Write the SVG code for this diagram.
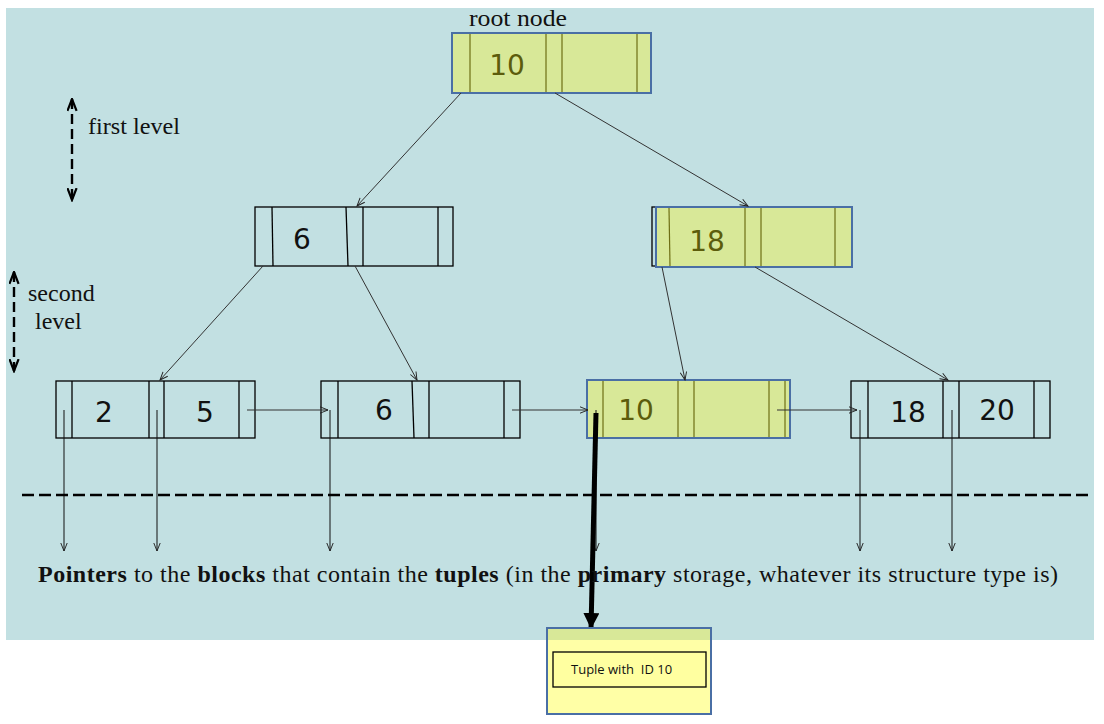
<svg xmlns="http://www.w3.org/2000/svg" width="1104" height="724" viewBox="0 0 1104 724">
<style>
.bg{fill:#c2e0e2}
.wn{fill:none;stroke:#000;stroke-width:1.3}
.wd{stroke:#000;stroke-width:1.3}
.yn{fill:#d8e898;stroke:#4a6fa5;stroke-width:2}
.yd{stroke:#6e6e14;stroke-width:1.2}
.num{font-family:"DejaVu Sans",sans-serif;font-size:28px;text-anchor:middle;fill:#111}
.ynum{fill:#5c5c0c}
.lbl{font-family:"Liberation Serif",serif;font-size:24px;fill:#111}
.edge{stroke:#333;stroke-width:1;fill:none;marker-end:url(#open)}
.ptr{stroke:#111;stroke-width:1;fill:none;marker-end:url(#open)}
.lev{stroke:#000;stroke-width:2.4;stroke-dasharray:10,5;fill:none;marker-start:url(#lv);marker-end:url(#lv)}
</style>
<defs>
<marker id="open" viewBox="0 0 10 10" refX="10" refY="5" markerWidth="10" markerHeight="8" orient="auto" markerUnits="userSpaceOnUse">
<path d="M0,1 L10,5 L0,9" fill="none" stroke="#222" stroke-width="1.2"/>
</marker>
<marker id="lv" viewBox="0 0 14 12" refX="13" refY="6" markerWidth="14" markerHeight="11" orient="auto-start-reverse" markerUnits="userSpaceOnUse">
<path d="M0,1 L13,6 L0,11" fill="none" stroke="#000" stroke-width="2.4"/>
</marker>
<marker id="thick" viewBox="0 0 16 16" refX="16" refY="8" markerWidth="16" markerHeight="16" orient="auto" markerUnits="userSpaceOnUse">
<path d="M0,0 L16,8 L0,16 Z" fill="#000"/>
</marker>
</defs>
<rect class="bg" x="6" y="8" width="1088" height="632"/>

<g id="labels">
<text class="lbl" x="469" y="26" textLength="98" lengthAdjust="spacingAndGlyphs">root node</text>
<text class="lbl" x="88" y="134" textLength="92" lengthAdjust="spacingAndGlyphs">first level</text>
<text class="lbl" x="28" y="301">second</text>
<text class="lbl" x="35" y="329">level</text>
<line class="lev" x1="72" y1="99" x2="72" y2="200"/>
<line class="lev" x1="14" y1="272" x2="14" y2="371"/>
</g>

<g id="root">
<rect class="yn" x="452" y="33" width="199" height="60"/>
<line class="yd" x1="470" y1="34" x2="470" y2="92"/>
<line class="yd" x1="546" y1="34" x2="546" y2="92"/>
<line class="yd" x1="562" y1="34" x2="562" y2="92"/>
<line class="yd" x1="637" y1="34" x2="637" y2="92"/>
<text class="num ynum" x="507" y="75">10</text>
</g>

<g id="n6">
<rect class="wn" x="255" y="207" width="198" height="59"/>
<line class="wd" x1="272" y1="207" x2="273" y2="266"/>
<line class="wd" x1="346" y1="207" x2="348" y2="266"/>
<line class="wd" x1="363" y1="207" x2="363" y2="266"/>
<line class="wd" x1="438" y1="207" x2="438" y2="266"/>
<text class="num" x="302" y="249">6</text>
</g>

<g id="n18">
<rect class="wn" x="652" y="207" width="196" height="59"/>
<rect class="yn" x="656" y="207" width="196" height="60"/>
<line class="yd" x1="669" y1="208" x2="670" y2="266"/>
<line class="yd" x1="745" y1="208" x2="745" y2="266"/>
<line class="yd" x1="761" y1="208" x2="761" y2="266"/>
<line class="yd" x1="835" y1="208" x2="835" y2="266"/>
<text class="num ynum" x="707" y="251">18</text>
</g>

<g id="leaf1">
<rect class="wn" x="56" y="381" width="199" height="57"/>
<line class="wd" x1="72" y1="381" x2="72" y2="438"/>
<line class="wd" x1="149" y1="381" x2="149" y2="438"/>
<line class="wd" x1="164" y1="381" x2="164" y2="438"/>
<line class="wd" x1="239" y1="381" x2="239" y2="438"/>
<text class="num" x="104" y="422">2</text>
<text class="num" x="205" y="422">5</text>
</g>

<g id="leaf2">
<rect class="wn" x="321" y="381" width="199" height="57"/>
<line class="wd" x1="338" y1="381" x2="338" y2="438"/>
<line class="wd" x1="412" y1="381" x2="414" y2="438"/>
<line class="wd" x1="429" y1="381" x2="429" y2="438"/>
<line class="wd" x1="504" y1="381" x2="504" y2="438"/>
<text class="num" x="384" y="420">6</text>
</g>

<g id="leaf3">
<rect class="wn" x="587" y="381" width="198" height="57"/>
<rect class="yn" x="587" y="380" width="203" height="58"/>
<line class="yd" x1="603" y1="381" x2="603" y2="437"/>
<line class="yd" x1="678" y1="381" x2="678" y2="437"/>
<line class="yd" x1="694" y1="381" x2="694" y2="437"/>
<line class="yd" x1="769" y1="381" x2="769" y2="437"/>
<line class="yd" x1="785" y1="381" x2="785" y2="437"/>
<text class="num ynum" x="636" y="420">10</text>
</g>

<g id="leaf4">
<rect class="wn" x="851" y="381" width="199" height="57"/>
<line class="wd" x1="868" y1="381" x2="868" y2="438"/>
<line class="wd" x1="943" y1="381" x2="943" y2="438"/>
<line class="wd" x1="959" y1="381" x2="959" y2="438"/>
<line class="wd" x1="1034" y1="381" x2="1034" y2="438"/>
<text class="num" x="908" y="422">18</text>
<text class="num" x="997" y="420">20</text>
</g>

<g id="connectors">
<line class="edge" x1="461" y1="93" x2="357" y2="206"/>
<line class="edge" x1="555" y1="93" x2="748" y2="206"/>
<line class="edge" x1="263" y1="266" x2="160" y2="380"/>
<line class="edge" x1="355" y1="266" x2="417" y2="380"/>
<line class="edge" x1="662" y1="267" x2="685" y2="380"/>
<line class="edge" x1="755" y1="267" x2="948" y2="380"/>
<line class="edge" x1="247" y1="410" x2="328" y2="410"/>
<line class="edge" x1="512" y1="410" x2="588" y2="410"/>
<line class="edge" x1="777" y1="410" x2="857" y2="410"/>
<line class="ptr" x1="64" y1="410" x2="64" y2="551"/>
<line class="ptr" x1="157" y1="410" x2="157" y2="551"/>
<line class="ptr" x1="330" y1="410" x2="330" y2="551"/>
<line class="ptr" x1="596" y1="410" x2="596" y2="551"/>
<line class="ptr" x1="860" y1="410" x2="860" y2="551"/>
<line class="ptr" x1="952" y1="410" x2="952" y2="551"/>
<line x1="22" y1="495" x2="1092" y2="495" stroke="#000" stroke-width="2.7" stroke-dasharray="12,5"/>
<line x1="596" y1="413" x2="591" y2="629" stroke="#000" stroke-width="5" marker-end="url(#thick)"/>
</g>

<text class="lbl" x="38" y="582" textLength="1020" lengthAdjust="spacing"><tspan font-weight="bold">Pointers</tspan> to the <tspan font-weight="bold">blocks</tspan> that contain the <tspan font-weight="bold">tuples</tspan> (in the <tspan font-weight="bold">primary</tspan> storage, whatever its structure type is)</text>

<g id="tuple">
<rect x="547" y="628" width="164" height="86" fill="#ffffa6" stroke="#4a6fa5" stroke-width="2"/>
<rect x="548" y="629" width="162" height="11" fill="#d8e898"/>
<rect x="553" y="652" width="153" height="35" fill="#ffffa0" stroke="#000" stroke-width="1.3"/>
<text x="571" y="674" font-family="'Open Sans',sans-serif" font-size="13" fill="#111" xml:space="preserve">Tuple with  ID 10</text>
</g>
</svg>
